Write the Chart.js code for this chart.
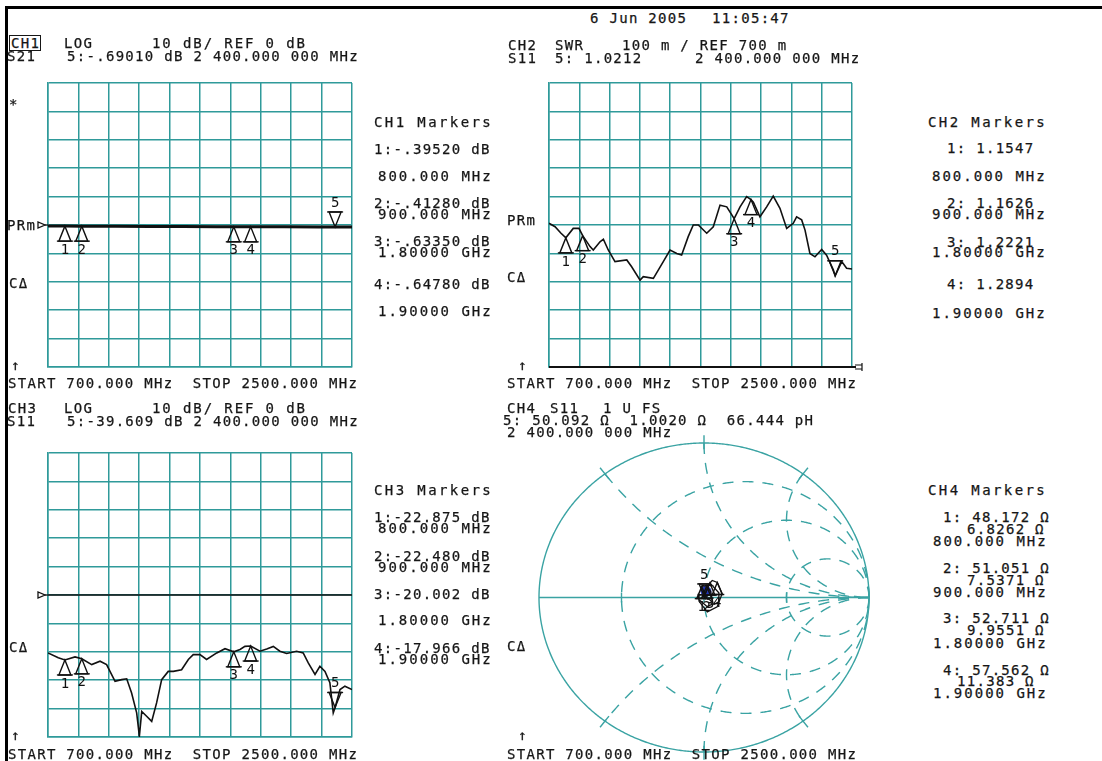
<!DOCTYPE html>
<html>
<head>
<meta charset="utf-8">
<title>Network analyzer - 4 channel display</title>
<script src="https://cdn.jsdelivr.net/npm/chart.js@4.4.1/dist/chart.umd.min.js"></script>
<style>
  body { margin: 0; background: #fff; }
  #page { position: relative; width: 1102px; height: 761px; overflow: hidden; background: #fff; }
  .box { position: absolute; }
  .t { position: absolute; font: 14px 'DejaVu Sans Mono', monospace; letter-spacing: 1.3px; color: #161616;
       white-space: pre; line-height: 14px; -webkit-text-stroke: 0.25px #161616; }
  .rule { position: absolute; background: #000; }
</style>
</head>
<body>
<div id="page">
  <div class="box" style="left:18px;top:53px;width:364px;height:344px"><canvas id="ch1"></canvas></div>
  <div class="box" style="left:519px;top:53px;width:363px;height:344px"><canvas id="ch2"></canvas></div>
  <div class="box" style="left:18px;top:423px;width:364px;height:344px"><canvas id="ch3"></canvas></div>
  <div class="box" style="left:509px;top:413px;width:390px;height:369px"><canvas id="ch4"></canvas></div>
  <div class="rule" style="left:5px;top:6px;width:1097px;height:3px"></div>
  <div class="rule" style="left:5px;top:6px;width:3px;height:755px"></div>
</div>
<script>
// CH1: S21 log mag (dB), 10 dB/div, ref 0 dB
const ch1Freq = [700, 800, 900, 1100, 1300, 1500, 1700, 1800, 1900, 2100, 2300, 2400, 2500];
const ch1Mag = [-0.38, -0.3952, -0.4128, -0.46, -0.51, -0.56, -0.61, -0.6335, -0.6478, -0.66, -0.68, -0.6901, -0.70];

// CH2: S11 SWR, 100 m/div, ref 700 m at bottom
const ch2Freq = [700, 736, 770, 800, 844, 878, 900, 944, 963, 1003, 1023, 1052, 1092, 1162, 1191, 1241, 1260,
  1320, 1379, 1419, 1459, 1488, 1527, 1557, 1587, 1637, 1676, 1716, 1756, 1800, 1835, 1874, 1900, 1914, 1953,
  1993, 2032, 2072, 2112, 2151, 2171, 2201, 2221, 2250, 2280, 2320, 2349, 2389, 2400, 2439, 2468, 2500];
const ch2Swr = [1.206, 1.194, 1.172, 1.1547, 1.188, 1.188, 1.1626, 1.124, 1.112, 1.141, 1.150, 1.112, 1.071,
  1.077, 1.053, 1.006, 1.018, 1.012, 1.071, 1.112, 1.100, 1.094, 1.159, 1.200, 1.200, 1.171, 1.194, 1.270,
  1.264, 1.2221, 1.264, 1.300, 1.2894, 1.280, 1.229, 1.264, 1.302, 1.259, 1.188, 1.206, 1.229, 1.218, 1.182,
  1.100, 1.088, 1.114, 1.094, 1.042, 1.0212, 1.071, 1.048, 1.045];

// CH3: S11 log mag (dB), 10 dB/div, ref 0 dB
const ch3Freq = [700, 761, 800, 860, 900, 959, 1008, 1047, 1097, 1136, 1166, 1195, 1225, 1241, 1255, 1284,
  1314, 1343, 1373, 1412, 1442, 1491, 1531, 1560, 1600, 1639, 1699, 1748, 1800, 1837, 1866, 1900, 1955, 1995,
  2034, 2073, 2113, 2172, 2211, 2241, 2281, 2310, 2340, 2369, 2389, 2400, 2429, 2458, 2500];
const ch3Mag = [-20.4, -22.1, -22.875, -21.8, -22.48, -24.5, -23.3, -24.5, -30.4, -29.8, -29.5, -34.5, -41.5,
  -49.7, -41.0, -42.7, -44.5, -38.0, -29.8, -26.9, -26.9, -26.3, -22.7, -21.0, -21.0, -22.7, -20.4, -18.9,
  -20.002, -19.2, -18.1, -17.966, -19.8, -19.0, -18.1, -19.8, -20.6, -19.8, -20.4, -23.9, -28.0, -25.1, -26.9,
  -30.9, -41.5, -39.609, -33.3, -32.1, -33.3];

// CH4: S11 Smith chart, reflection coefficient (re, im)
const ch4Freq = [700, 750, 800, 850, 900, 950, 1000, 1050, 1100, 1150, 1200, 1240, 1300, 1370, 1450, 1530,
  1600, 1700, 1800, 1850, 1900, 2000, 2100, 2200, 2280, 2340, 2370, 2400, 2450, 2500];
const ch4Re = [0.060, 0.020, -0.0137, -0.010, 0.0159, 0.040, 0.055, 0.020, -0.025, -0.030, -0.010, 0.002,
  0.006, 0.030, 0.040, 0.060, 0.085, 0.090, 0.0355, 0.050, 0.0806, 0.110, 0.080, 0.020, -0.030, -0.035,
  -0.020, 0.001, 0.022, 0.020];
const ch4Im = [0.074, 0.080, 0.0705, 0.078, 0.0734, 0.040, -0.040, -0.060, -0.018, 0.015, 0.016, 0.002,
  -0.004, -0.012, -0.020, -0.045, -0.030, 0.030, 0.0935, 0.110, 0.0973, 0.025, -0.060, -0.093, -0.025,
  0.020, 0.019, 0.010, 0.012, 0.010];
const ch4Spot = [{ x: 0.012, y: 0.040 }];

// markers 1..5
const mkrNames = ['1', '2', '3', '4', '5'];
const mkrFreq = [800, 900, 1800, 1900, 2400];
const ch1Mkr = [-0.3952, -0.4128, -0.6335, -0.6478, -0.6901];
const ch2Mkr = [1.1547, 1.1626, 1.2221, 1.2894, 1.0212];
const ch3Mkr = [-22.875, -22.480, -20.002, -17.966, -39.609];
const ch4MkrRe = [-0.0137, 0.0159, 0.0355, 0.0806, 0.0009];
const ch4MkrIm = [0.0705, 0.0734, 0.0935, 0.0973, 0.0100];

// smith graticule
const smithR = [1 / 3, 1, 3];
const smithX = [0.5, 1, 2];

const TEAL = '#2f9a9a';
const INK = '#111';
const PAD = 30;

const texts = [
  [590, 18, '6 Jun 2005'], [712, 18, '11:05:47'],
  [11, 43, 'CH1', 1.3, true], [64, 43, 'LOG'], [152, 43, '10 dB/ REF 0 dB', 1.9],
  [7, 56, 'S21'], [67, 56, '5:-.69010 dB 2 400.000 000 MHz'],
  [508, 45, 'CH2'], [555, 45, 'SWR'], [622, 45, '100 m / REF 700 m'],
  [508, 58, 'S11'], [555, 58, '5: 1.0212'], [695, 58, '2 400.000 000 MHz'],
  [9, 104, '*'], [7, 225, 'PRm'], [9, 283, 'CΔ'], [11, 365, '↑'],
  [507, 220, 'PRm'], [507, 277, 'CΔ'], [518, 365, '↑'],
  [374, 122, 'CH1 Markers', 2.4], [374, 149, '1:-.39520 dB'], [378, 176, '800.000 MHz', 2.0],
  [374, 203, '2:-.41280 dB'], [378, 214, '900.000 MHz', 2.0], [374, 241, '3:-.63350 dB'],
  [378, 252, '1.80000 GHz', 2.0], [374, 284, '4:-.64780 dB'], [378, 311, '1.90000 GHz', 2.0],
  [928, 122, 'CH2 Markers', 2.4], [947, 148, '1: 1.1547'], [932, 176, '800.000 MHz', 2.0],
  [947, 203, '2: 1.1626'], [932, 214, '900.000 MHz', 2.0], [947, 242, '3: 1.2221'],
  [932, 252, '1.80000 GHz', 2.0], [947, 284, '4: 1.2894'], [932, 313, '1.90000 GHz', 2.0],
  [8, 383, 'START 700.000 MHz  STOP 2500.000 MHz'], [507, 383, 'START 700.000 MHz  STOP 2500.000 MHz'],
  [8, 408, 'CH3'], [64, 408, 'LOG'], [152, 408, '10 dB/ REF 0 dB', 1.9],
  [7, 421, 'S11'], [67, 421, '5:-39.609 dB 2 400.000 000 MHz'],
  [507, 408, 'CH4'], [550, 408, 'S11'], [603, 408, '1 U FS'],
  [503, 420, '5: 50.092 Ω  1.0020 Ω  66.444 pH'], [507, 432, '2 400.000 000 MHz'],
  [9, 647, 'CΔ'], [11, 735, '↑'], [507, 646, 'CΔ'], [518, 735, '↑'],
  [374, 490, 'CH3 Markers', 2.4], [374, 517, '1:-22.875 dB'], [378, 528, '800.000 MHz', 2.0],
  [374, 556, '2:-22.480 dB'], [378, 567, '900.000 MHz', 2.0], [374, 594, '3:-20.002 dB'],
  [378, 620, '1.80000 GHz', 2.0], [374, 648, '4:-17.966 dB'], [378, 659, '1.90000 GHz', 2.0],
  [928, 490, 'CH4 Markers', 2.4], [943, 517, '1: 48.172 Ω'], [967, 529, '6.8262 Ω'],
  [933, 541, '800.000 MHz', 2.0], [943, 568, '2: 51.051 Ω'], [967, 580, '7.5371 Ω'],
  [933, 592, '900.000 MHz', 2.0], [943, 618, '3: 52.711 Ω'], [967, 630, '9.9551 Ω'],
  [933, 643, '1.80000 GHz', 2.0], [943, 670, '4: 57.562 Ω'], [957, 681, '11.383 Ω'],
  [933, 693, '1.90000 GHz', 2.0],
  [8, 754, 'START 700.000 MHz  STOP 2500.000 MHz'], [507, 754, 'START 700.000 MHz  STOP 2500.000 MHz']
];

const page = document.getElementById('page');
texts.forEach(([x, y, s, ls, boxed]) => {
  const d = document.createElement('div');
  d.className = 't';
  d.textContent = s;
  d.style.left = x + 'px';
  d.style.top = (y - 7) + 'px';
  if (ls) d.style.letterSpacing = ls + 'px';
  if (boxed) {
    d.style.border = '1px solid #161616';
    d.style.padding = '0 0 0 1px';
    d.style.left = (x - 2) + 'px';
    d.style.top = (y - 8) + 'px';
  }
  page.appendChild(d);
});

// marker triangles: 1-4 hang below the trace, 5 (active) sits above it
function markers(xs, ys, size) {
  const h = size || 15, w = Math.round(h * 0.4);
  return {
    id: 'mkrs',
    afterDatasetsDraw(chart) {
      const { ctx, scales: { x, y } } = chart;
      ctx.save();
      ctx.strokeStyle = INK; ctx.fillStyle = INK; ctx.lineWidth = 1.4;
      ctx.font = "14px 'DejaVu Sans Mono'";
      ctx.textAlign = 'center'; ctx.textBaseline = 'middle';
      xs.forEach((xv, i) => {
        const px = x.getPixelForValue(xv), py = y.getPixelForValue(ys[i]);
        const s = i === xs.length - 1 ? -1 : 1;
        ctx.beginPath();
        ctx.moveTo(px, py);
        ctx.lineTo(px - w, py + s * h);
        ctx.lineTo(px + w, py + s * h);
        ctx.closePath();
        ctx.stroke();
        ctx.beginPath();
        ctx.moveTo(px - w - 2, py + s * h); ctx.lineTo(px + w + 2, py + s * h);
        ctx.stroke();
        ctx.fillText(mkrNames[i], px, py + s * (h + 9));
      });
      ctx.restore();
    }
  };
}

// reference position: pointer on the left, optional line, optional end cap
function refMark(value, opt) {
  return {
    id: 'refMark',
    beforeDatasetsDraw(chart) {
      const { ctx, chartArea: a, scales: { y } } = chart;
      const py = Math.round(y.getPixelForValue(value));
      ctx.save();
      ctx.strokeStyle = INK; ctx.lineWidth = 1.3;
      if (opt.pointer) {
        ctx.beginPath();
        ctx.moveTo(a.left - 10, py - 3); ctx.lineTo(a.left - 10, py + 3); ctx.lineTo(a.left - 3, py);
        ctx.closePath(); ctx.stroke();
        ctx.beginPath(); ctx.moveTo(a.left - 3, py); ctx.lineTo(a.left, py); ctx.stroke();
      }
      if (opt.line) {
        ctx.lineWidth = opt.line;
        ctx.beginPath(); ctx.moveTo(a.left, py); ctx.lineTo(a.right + (opt.cap ? 4 : 0), py); ctx.stroke();
      }
      if (opt.cap) {
        ctx.lineWidth = 1.2;
        ctx.beginPath();
        ctx.moveTo(a.right + 3, py - 2); ctx.lineTo(a.right + 10, py - 2);
        ctx.moveTo(a.right + 3, py + 2); ctx.lineTo(a.right + 10, py + 2);
        ctx.moveTo(a.right + 10, py - 4); ctx.lineTo(a.right + 10, py + 4);
        ctx.stroke();
      }
      ctx.restore();
    }
  };
}

function gridScale(min, max) {
  return {
    type: 'linear', min, max,
    ticks: { display: false, count: 11 },
    grid: { color: TEAL, lineWidth: 1.5, drawTicks: false },
    border: { color: TEAL, width: 1.5 }
  };
}

function rectChart(id, xs, ys, yMin, yMax, lw, extra) {
  return new Chart(document.getElementById(id), {
    type: 'scatter',
    data: {
      datasets: [{
        data: xs.map((f, i) => ({ x: f, y: ys[i] })),
        showLine: true, borderColor: INK, borderWidth: lw, pointRadius: 0, tension: 0
      }]
    },
    options: {
      responsive: true, maintainAspectRatio: false, animation: false, devicePixelRatio: 1,
      layout: { padding: PAD },
      scales: { x: gridScale(700, 2500), y: gridScale(yMin, yMax) },
      plugins: { legend: { display: false }, tooltip: { enabled: false } }
    },
    plugins: extra
  });
}

rectChart('ch1', ch1Freq, ch1Mag, -50, 50, 3,
  [refMark(0, { pointer: true }), markers(mkrFreq, ch1Mkr)]);
rectChart('ch2', ch2Freq, ch2Swr, 0.7, 1.7, 1.6,
  [refMark(0.7, { line: 2, cap: true }), markers(mkrFreq, ch2Mkr)]);
rectChart('ch3', ch3Freq, ch3Mag, -50, 50, 1.6,
  [refMark(0, { pointer: true, line: 1.6 }), markers(mkrFreq, ch3Mkr)]);

// smith chart graticule drawn through the chart's own scales
const smithGrid = {
  id: 'smithGrid',
  beforeDatasetsDraw(chart) {
    const { ctx, scales: { x, y } } = chart;
    const px = v => x.getPixelForValue(v), py = v => y.getPixelForValue(v);
    const circ = (cx, cy, r) => {
      ctx.beginPath();
      let pen = false;
      for (let k = 0; k <= 720; k++) {
        const t = k / 720 * Math.PI * 2;
        const gx = cx + r * Math.cos(t), gy = cy + r * Math.sin(t);
        if (gx * gx + gy * gy <= 1.0001) {
          if (pen) ctx.lineTo(px(gx), py(gy)); else ctx.moveTo(px(gx), py(gy));
          pen = true;
        } else pen = false;
      }
      ctx.stroke();
    };
    ctx.save();
    ctx.strokeStyle = '#3aa3a3';
    ctx.lineWidth = 1.4;
    circ(0, 0, 1);
    ctx.beginPath(); ctx.moveTo(px(-1), py(0)); ctx.lineTo(px(1), py(0)); ctx.stroke();
    // ticks where arcs meet the rim and the real axis
    smithX.forEach(xv => [1, -1].forEach(s => {
      const a = Math.PI - 2 * Math.atan(xv);
      const c = Math.cos(a), si = s * Math.sin(a);
      ctx.beginPath();
      ctx.moveTo(px(c * 0.96), py(si * 0.96)); ctx.lineTo(px(c * 1.05), py(si * 1.05));
      ctx.stroke();
    }));
    smithR.forEach(r => {
      const g = (r - 1) / (r + 1);
      ctx.beginPath(); ctx.moveTo(px(g), py(0) - 5); ctx.lineTo(px(g), py(0) + 5); ctx.stroke();
    });
    ctx.setLineDash([11, 9]);
    smithR.forEach(r => circ(r / (1 + r), 0, 1 / (1 + r)));
    smithX.forEach(xv => { circ(1, 1 / xv, 1 / xv); circ(1, -1 / xv, 1 / xv); });
    ctx.restore();
  }
};

new Chart(document.getElementById('ch4'), {
  type: 'scatter',
  data: {
    datasets: [
      {
        data: ch4Re.map((r, i) => ({ x: r, y: ch4Im[i] })),
        showLine: true, borderColor: INK, borderWidth: 1.3, pointRadius: 0, tension: 0
      },
      { data: ch4Spot, pointRadius: 5, backgroundColor: '#2036b8', borderColor: '#2036b8' }
    ]
  },
  options: {
    responsive: true, maintainAspectRatio: false, animation: false, devicePixelRatio: 1,
    layout: { padding: PAD },
    scales: {
      x: { type: 'linear', min: -1, max: 1, display: false },
      y: { type: 'linear', min: -1, max: 1, display: false }
    },
    plugins: { legend: { display: false }, tooltip: { enabled: false } }
  },
  plugins: [smithGrid, markers(ch4MkrRe, ch4MkrIm, 12)]
});
</script>
</body>
</html>
